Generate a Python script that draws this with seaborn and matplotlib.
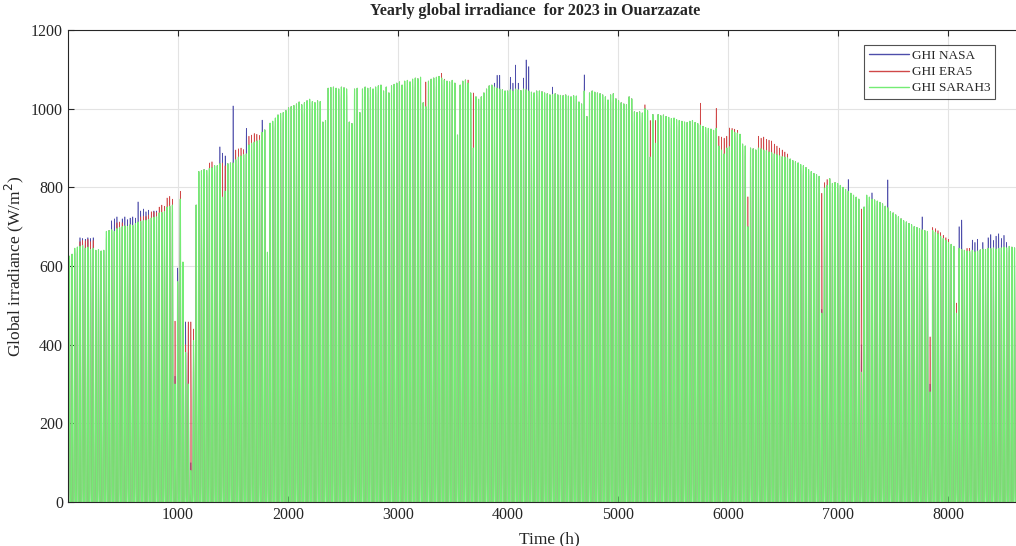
import numpy as np
import pandas as pd
import matplotlib.pyplot as plt
import seaborn as sns
from matplotlib.lines import Line2D

# shape of a clear day, fraction of the daily peak for each hour (UTC)
hour_profile = [0, 0, 0, 0, 0, 0, 0.05, 0.25, 0.50, 0.72, 0.88, 0.97,
                1.00, 0.98, 0.90, 0.75, 0.52, 0.28, 0.07, 0, 0, 0, 0, 0]

sarah3_peaks = [
    # Jan
    625, 630, 645, 648, 650, 652, 645, 648, 642, 645,
    640, 642, 638, 640, 688, 690, 692, 688, 695, 698,
    700, 702, 700, 705, 703, 708, 712, 713, 715, 716, 718,
    # Feb
    722, 724, 725, 735, 736, 738, 750, 752, 755, 300,
    560, 770, 610, 380, 300, 80, 410, 755, 840, 842,
    845, 843, 848, 850, 855, 855, 860, 775,
    # Mar
    790, 860, 862, 862, 870, 877, 880, 883, 885, 908,
    912, 915, 918, 920, 940, 946, 635, 963, 968, 976,
    984, 988, 990, 995, 1002, 1005, 1008, 1012, 1017, 1010, 1015,
    # Apr
    1020, 1024, 1018, 1015, 1020, 1018, 966, 970, 1052, 1054,
    1055, 1052, 1050, 1055, 1053, 1050, 966, 962, 1050, 1052,
    990, 1050, 1055, 1052, 1053, 1050, 1055, 1058, 1060, 1045,
    # May
    1055, 1040, 1058, 1062, 1065, 1068, 1060, 1070, 1072, 1068,
    1075, 1078, 1076, 1080, 1015, 1005, 1070, 1075, 1078, 1080,
    1082, 1078, 1073, 1070, 1068, 1072, 1065, 933, 1060, 1070, 1073,
    # Jun
    1065, 1040, 900, 1030, 1024, 1030, 1040, 1050, 1058, 1060,
    1055, 1052, 1050, 1048, 1045, 1045, 1048, 1045, 1050, 1048,
    1046, 1050, 1048, 1045, 1042, 1040, 1045, 1045, 1043, 1040,
    # Jul
    1038, 1035, 1036, 1038, 1035, 1034, 1033, 1035, 1032, 1030,
    1033, 1032, 1017, 1012, 1045, 980, 1040, 1045, 1042, 1040,
    1038, 1035, 1030, 1022, 1035, 1038, 1025, 1020, 1015, 1012, 1010,
    # Aug
    1030, 1025, 992, 990, 992, 989, 1000, 995, 877, 985,
    912, 985, 982, 984, 980, 978, 975, 976, 972, 970,
    968, 966, 965, 968, 970, 965, 962, 958, 955, 952, 950,
    # Sep
    948, 945, 950, 905, 895, 885, 900, 903, 945, 940,
    938, 935, 910, 905, 700, 900, 898, 895, 900, 898,
    895, 893, 890, 888, 885, 883, 880, 878, 877, 875,
    # Oct
    872, 868, 865, 862, 858, 855, 850, 845, 840, 835,
    832, 828, 480, 798, 805, 822, 810, 812, 810, 805,
    800, 795, 790, 785, 780, 775, 770, 330, 750, 780, 775,
    # Nov
    770, 768, 765, 762, 758, 752, 748, 738, 735, 730,
    725, 720, 715, 712, 708, 705, 700, 698, 695, 692,
    690, 688, 280, 690, 686, 682, 676, 670, 665, 660,
    # Dec
    655, 650, 480, 645, 642, 640, 638, 637, 640, 636,
    638, 641, 643, 642, 645, 644, 646, 643, 645, 646,
    648, 646, 650, 648, 646, 650, 648, 650, 652, 650, 648,
]

# days where NASA / ERA5 peaks differ from SARAH3 (elsewhere hidden under it)
nasa_days = [4, 5, 6, 7, 8, 9, 16, 17, 18, 20, 21, 22, 23, 24, 25, 26, 27, 28,
             29, 30, 32, 33, 40, 41, 43, 44, 45, 46, 47, 57, 58, 59, 62, 67, 73,
             131, 161, 162, 163, 167, 168, 169, 170, 172, 173, 174, 183, 195,
             285, 295, 300, 304, 310, 323, 326, 337, 338, 342, 343, 344, 346,
             348, 349, 350, 351, 352, 353, 354, 355]
nasa_peaks = [672, 670, 668, 672, 670, 672, 715, 720, 725, 720, 725, 718, 722,
              725, 722, 763, 740, 745, 738, 742, 740, 740, 320, 595, 600, 458,
              380, 100, 420, 903, 887, 880, 1007, 950, 971,
              1075, 1065, 1085, 1085, 1080, 1065, 1111, 1065, 1078, 1124, 1107,
              1055, 1086,
              490, 820, 400, 786, 819, 725, 300, 700, 717, 666, 660, 668, 660,
              672, 680, 665, 676, 682, 670, 678, 660]

era5_days = [4, 5, 6, 7, 8, 9, 18, 19, 20, 27, 28, 29, 30, 31, 32, 33, 34, 35,
             36, 37, 38, 39, 40, 42, 44, 45, 46, 47, 53, 54, 58, 59, 63, 64, 65,
             66, 68, 69, 70, 71, 72, 135, 141, 142, 151, 153, 218, 220, 222,
             239, 245, 246, 247, 248, 249, 250, 251, 252, 253, 257, 261, 262,
             263, 264, 265, 266, 267, 268, 269, 270, 271, 272, 285, 286, 287,
             300, 326, 327, 328, 329, 330, 331, 332, 333, 336, 340, 341]
era5_peaks = [662, 665, 664, 668, 662, 665, 710, 712, 710, 725, 727, 726, 730,
              738, 738, 736, 750, 755, 752, 773, 777, 770, 460, 790, 400, 458,
              458, 440, 862, 865, 862, 855, 895, 898, 900, 896, 930, 933, 937,
              935, 932, 1068, 1090, 1075, 1073, 1040, 1010, 970, 970,
              1014, 1001, 930, 928, 925, 930, 951, 950, 948, 945, 776, 930, 925,
              928, 922, 920, 918, 910, 905, 900, 895, 890, 885, 785, 812, 820,
              745, 420, 698, 695, 690, 685, 678, 672, 668, 506, 645, 645]

series_names = ['GHI NASA', 'GHI ERA5', 'GHI SARAH3']
series_colors = {'GHI NASA': '#4d4daa', 'GHI ERA5': '#d04848',
                 'GHI SARAH3': '#74ec74'}
series_widths = {'GHI NASA': 0.45, 'GHI ERA5': 0.45, 'GHI SARAH3': 0.8}


def daily_peaks(days, peaks):
    out = list(sarah3_peaks)
    for d, p in zip(days, peaks):
        out[d] = p
    return out


def hourly(peaks):
    return np.outer(peaks, hour_profile).ravel()


hours = np.arange(1, 365 * 24 + 1)
series = {
    'GHI NASA': hourly(daily_peaks(nasa_days, nasa_peaks)),
    'GHI ERA5': hourly(daily_peaks(era5_days, era5_peaks)),
    'GHI SARAH3': hourly(sarah3_peaks),
}

sns.set_style('white')
plt.rcParams['font.family'] = ['Liberation Serif', 'DejaVu Serif']

fig = plt.figure(figsize=(10.16, 5.46), dpi=100)
ax = fig.add_axes([68 / 1016, 1 - 502 / 546, 963.6 / 1016, 472 / 546])
ax.set_axisbelow(True)
ax.grid(True, color='#e3e3e3', linewidth=0.8)

for name in series_names:
    df = pd.DataFrame({'hour': hours, 'ghi': series[name]})
    sns.lineplot(data=df, x='hour', y='ghi', color=series_colors[name],
                 estimator=None, sort=False, linewidth=series_widths[name], ax=ax)

ax.set_xlim(0, 8760)
ax.set_ylim(0, 1200)
ax.set_xticks(range(1000, 9000, 1000))
ax.set_yticks(range(0, 1201, 200))
ax.tick_params(direction='in', length=4, labelsize=11.5, colors='#262626',
               top=True, left=True, bottom=True)
for s in ['top', 'left', 'bottom']:
    ax.spines[s].set_color('#262626')
    ax.spines[s].set_linewidth(0.8)
ax.spines['right'].set_visible(False)

ax.set_title('Yearly global irradiance  for 2023 in Ouarzazate', x=0.4846,
             fontsize=11.5, fontweight='bold', pad=11)
ax.set_xlabel('Time (h)', fontsize=12.5, labelpad=6)
ax.set_ylabel('Global irradiance (W/m$^2$)', fontsize=12.5, labelpad=4)

handles = [Line2D([0], [0], color=series_colors[n], linewidth=1) for n in series_names]
leg = ax.legend(handles, series_names, loc='upper right',
                bbox_to_anchor=(0.962, 0.968), borderaxespad=0, fontsize=9.5,
                frameon=True, fancybox=False, edgecolor='#262626',
                handlelength=3.0, handletextpad=0.25, borderpad=0.35,
                labelspacing=0.3)
leg.get_frame().set_linewidth(0.8)

fig.savefig('out.png', dpi=100)
